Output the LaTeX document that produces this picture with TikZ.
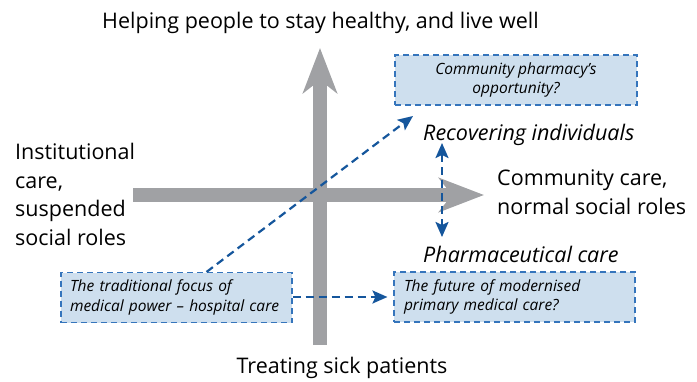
\documentclass[tikz,border=0pt]{standalone}
\usepackage{fontspec}
\setmainfont{Open Sans}
\usetikzlibrary{arrows.meta}
\usetikzlibrary{calc}
\definecolor{axisgrey}{HTML}{A0A1A4}
\definecolor{linkblue}{HTML}{15569C}
\definecolor{boxfill}{HTML}{CEDFEE}
\definecolor{boxedge}{HTML}{3575BC}

\begin{document}
\begin{tikzpicture}[x=1pt,y=-1pt,
    axis/.style={draw=axisgrey,line width=14pt,-{Stealth[length=45pt,width=34pt,inset=13pt]}},
    quadbox/.style={draw=boxedge,fill=boxfill,dash pattern=on 6pt off 4pt,line width=1.1pt,
        minimum height=50pt,inner ysep=0pt,font=\fontsize{15.5}{19.5}\selectfont\itshape},
    link/.style={draw=linkblue,line width=2.2pt,dash pattern=on 8pt off 5pt,
        -{Stealth[length=15pt,width=13pt,inset=3pt]}},
    axislabel/.style={inner sep=0pt,font=\fontsize{21.5}{28.7}\selectfont},
  ]
  \useasboundingbox (0,0) rectangle (697,381);
  % the two axes
  \coordinate (W) at (133,195);
  \coordinate (E) at (484,195);
  \coordinate (S) at (320,345);
  \coordinate (N) at (320,48);
  \draw[axis] (W) -- (E);
  \draw[axis] (S) -- (N);
  % axis ends
  \node[axislabel,anchor=base] (health) at (320.5,28) {Helping people to stay healthy, and live well};
  \node[axislabel,anchor=base] (sick) at (342,373) {Treating sick patients};
  \node[axislabel,anchor=north west,align=left] (inst) at (15,143)
    {Institutional\\care,\\suspended\\social roles};
  \node[axislabel,anchor=north west,align=left] (comm) at (497,170)
    {Community care,\\normal social roles};
  \node[axislabel,anchor=base west,font=\fontsize{21.5}{28}\selectfont\itshape] (recov) at (423,140) {Recovering individuals};
  \node[axislabel,anchor=base west,font=\fontsize{21.5}{28}\selectfont\itshape] (pharm) at (423,262) {Pharmaceutical care};
  % boxes
  \node[quadbox,minimum width=242pt,align=center] (opp) at (516,80)
    {Community pharmacy's\\opportunity?};
  \node[quadbox,minimum width=231pt,text width=213pt,inner xsep=9pt,align=left] (trad) at (176.5,297.5)
    {The traditional focus of\\medical power -- hospital care};
  \node[quadbox,minimum width=241pt,text width=221pt,inner xsep=10pt,align=left] (future) at (514.5,297)
    {The future of modernised\\primary medical care?};
  % links
  \coordinate (tip) at (413,116);
  \coordinate (up) at (442,143);
  \coordinate (down) at (442,237);
  \draw[link] ([xshift=30pt]trad.north) -- (tip);
  \draw[link] (trad.east |- future.west) -- ([xshift=-6pt]future.west);
  \draw[link,{Stealth[length=15pt,width=13pt,inset=3pt]}-{Stealth[length=15pt,width=13pt,inset=3pt]}] (up) -- (down);
\end{tikzpicture}
\end{document}
